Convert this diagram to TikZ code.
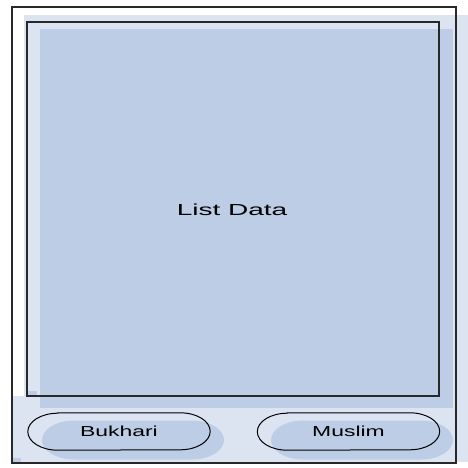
\documentclass[tikz,border=0pt]{standalone}
\usepackage{fontspec}
\setmainfont{Liberation Sans}
\definecolor{lightpanel}{RGB}{220,228,242}
\definecolor{bluefill}{RGB}{188,205,229}
\definecolor{frameline}{RGB}{40,40,40}
\tikzset{
  btn/.style={minimum width=182pt, minimum height=37pt, inner sep=0pt, font=\fontsize{14.5}{16}\selectfont},
  btnline/.style={draw=black, line width=1pt},
  frame/.style={draw=frameline, line width=1.6pt},
}
\begin{document}
\begin{tikzpicture}[x=1pt,y=-1pt]
\useasboundingbox (0,0) rectangle (468,468);
% background panels
\fill[lightpanel] (24,15) rectangle (468,462);
\fill[lightpanel] (13,396) rectangle (468,462);
\fill[bluefill] (40,29) rectangle (453,408);
\fill[bluefill] (28,391) rectangle (37,396);
\fill[bluefill] (13,458) rectangle (21,462);
% outer frame
\node[frame, minimum width=444pt, minimum height=456pt, inner sep=0pt] (outer) at (234,235) {};
% inner frame (list area)
\node[draw=frameline, line width=1.3pt, minimum width=412pt, minimum height=374pt, inner sep=0pt] (list) at (233,209) {};
\node[font=\fontsize{16}{18}\selectfont] (listtxt) at (232,210) {\scalebox{1.75}[1]{List Data}};
% button shadows
\coordinate (bsh) at (133,440);
\coordinate (msh) at (362,440);
\foreach \c in {bsh,msh}{
  \fill[bluefill] (\c) ++(-59,-19.5) -- ++(118,0)
    arc[start angle=90,end angle=-90,x radius=32pt,y radius=19.5pt]
    -- ++(-118,0)
    arc[start angle=270,end angle=90,x radius=32pt,y radius=19.5pt] -- cycle;
}
% buttons
\node[btn] (bukhari) at (119,431.5) {\scalebox{1.58}[1]{Bukhari}};
\node[btn] (muslim) at (348.5,431.5) {\scalebox{1.58}[1]{Muslim}};
\foreach \b in {bukhari,muslim}{
  \draw[btnline] ([xshift=30pt]\b.north west) -- ([xshift=-30pt]\b.north east)
    arc[start angle=90,end angle=-90,x radius=30pt,y radius=18.5pt]
    -- ([xshift=30pt]\b.south west)
    arc[start angle=270,end angle=90,x radius=30pt,y radius=18.5pt] -- cycle;
}
\end{tikzpicture}
\end{document}
